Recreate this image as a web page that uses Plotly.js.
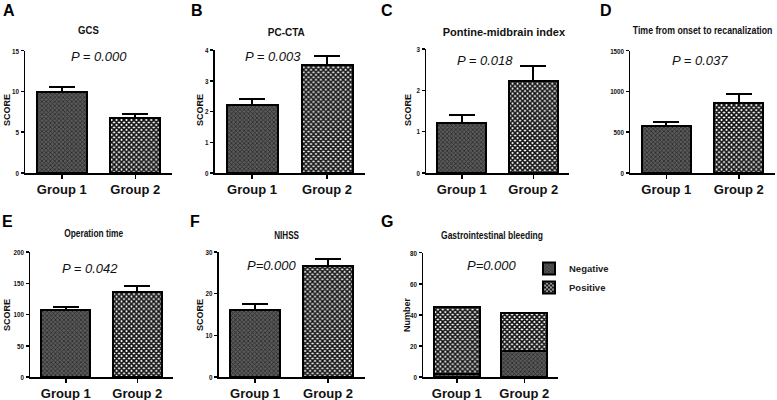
<!DOCTYPE html>
<html>
<head>
<meta charset="utf-8">
<script src="https://cdn.plot.ly/plotly-3.0.1.min.js"></script>
<style>
html,body{margin:0;padding:0;background:#fff;}
#chart{width:777px;height:400px;}
</style>
</head>
<body>
<div id="chart"></div>
<script>
// ---- data ----
const groups = ["Group 1", "Group 2"];
const gcsMean = [9.9, 6.8];
const gcsErr = [0.6, 0.45];
const pcctaMean = [2.2, 3.5];
const pcctaErr = [0.22, 0.32];
const pmiMean = [1.2, 2.23];
const pmiErr = [0.21, 0.35];
const timeMean = [575, 860];
const timeErr = [50, 110];
const opMean = [107, 136];
const opErr = [5, 10];
const nihssMean = [16.1, 26.6];
const nihssErr = [1.4, 1.7];
const giNegative = [2, 17];
const giPositive = [43, 24];
const legendNames = ["Negative", "Positive"];
const panelTitles = ["GCS", "PC-CTA", "Pontine-midbrain index", "Time from onset to recanalization",
                     "Operation time", "NIHSS", "Gastrointestinal bleeding"];
const pLabels = ["P = 0.000", "P = 0.003", "P = 0.018", "P = 0.037", "P = 0.042", "P=0.000", "P=0.000"];
const panelLetters = ["A", "B", "C", "D", "E", "F", "G"];
const yTitles = ["SCORE", "SCORE", "SCORE", "", "SCORE", "SCORE", "Number"];
const yRanges = [[0, 15], [0, 4], [0, 3], [0, 1500], [0, 200], [0, 30], [0, 80]];
const yDticks = [5, 1, 1, 500, 50, 10, 20];

// ---- layout helpers (pixel -> paper) ----
const W = 777, H = 400;
const px = x => x / W;
const py = y => 1 - y / H;

const SANS = "Liberation Sans, Arial, sans-serif";

const pat1 = {shape: "x", bgcolor: "#5a5a5a", fgcolor: "#2a2a2a", size: 3, solidity: 0.45};
const pat2 = {shape: "x", bgcolor: "#ffffff", fgcolor: "#111111", size: 3.5, solidity: 0.7};

// panel pixel geometry: [xLeft, xRight, yTop, yBottom]
const geom = [
  [25, 172, 50.7, 173],
  [214.5, 364.5, 50, 173],
  [426, 569, 49, 173],
  [630, 775, 50.7, 173],
  [30, 173, 252, 377],
  [218.5, 364.5, 252, 377],
  [423, 558, 252.7, 377]
];
const titlePos = [[88, 30], [286, 32], [504, 32], [702, 30], [93, 233], [286, 235], [492, 235]];
const titleWidths = [21, 37, 123, 140, 59, 25, 102];
const pPos = [[99, 57], [273, 57], [485, 61], [700, 61], [90, 268], [272, 265], [492, 265]];
const letterPos = [[9, 10], [197, 10], [387, 10], [606, 10], [7, 221], [195, 221], [387, 221]];
const yTitlePos = [[7, 110], [200, 110], [408, 110], null, [7, 315], [200, 315], [407, 315]];

const means = [gcsMean, pcctaMean, pmiMean, timeMean, opMean, nihssMean];
const errs = [gcsErr, pcctaErr, pmiErr, timeErr, opErr, nihssErr];

const traces = [];
const layout = {
  width: W, height: H,
  margin: {l: 0, r: 0, t: 0, b: 0},
  paper_bgcolor: "#fff", plot_bgcolor: "rgba(0,0,0,0)",
  barmode: "stack",
  showlegend: true,
  legend: {x: px(529), y: py(254), xanchor: "left", yanchor: "top",
           traceorder: "normal", font: {family: SANS, size: 9.5, color: "#222", weight: "bold"},
           itemwidth: 30, tracegroupgap: 0, bgcolor: "rgba(0,0,0,0)"},
  annotations: []
};

function axisStyle() {
  return {showline: true, linecolor: "#000", linewidth: 1.5, ticks: "outside",
          ticklen: 3, tickwidth: 1.5, tickcolor: "#000", showgrid: false, zeroline: false,
          fixedrange: true};
}

const titleAnnIdx = [];
for (let i = 0; i < 7; i++) {
  const n = i + 1;
  const xa = n === 1 ? "x" : "x" + n;
  const ya = n === 1 ? "y" : "y" + n;
  const xk = n === 1 ? "xaxis" : "xaxis" + n;
  const yk = n === 1 ? "yaxis" : "yaxis" + n;
  const g = geom[i];
  layout[xk] = Object.assign(axisStyle(), {
    domain: [px(g[0]), px(g[1])], anchor: ya, type: "category", range: [-0.5, 1.5],
    ticklen: 4,
    tickfont: {family: SANS, size: 13, color: "#111", weight: "bold"}
  });
  layout[yk] = Object.assign(axisStyle(), {
    domain: [py(g[3]), py(g[2])], anchor: xa, range: yRanges[i], dtick: yDticks[i],
    tickfont: {family: SANS, size: 8, color: "#111", weight: "bold"}
  });

  if (i < 6) {
    traces.push({
      type: "bar", x: groups, y: means[i], xaxis: xa, yaxis: ya, width: 0.68,
      showlegend: false, hoverinfo: "skip",
      marker: {line: {color: "#000", width: 2},
               pattern: {shape: [pat1.shape, pat2.shape], bgcolor: [pat1.bgcolor, pat2.bgcolor],
                         fgcolor: [pat1.fgcolor, pat2.fgcolor], size: [pat1.size, pat2.size],
                         solidity: [pat1.solidity, pat2.solidity], fillmode: "replace"}},
      error_y: {type: "data", array: errs[i], arrayminus: [0, 0], symmetric: false,
                color: "#000", thickness: 2, width: 13}
    });
  } else {
    traces.push({
      type: "bar", x: groups, y: giNegative, xaxis: xa, yaxis: ya, width: 0.68,
      name: legendNames[0], hoverinfo: "skip",
      marker: {line: {color: "#000", width: 2}, pattern: Object.assign({fillmode: "replace"}, pat1)}
    });
    traces.push({
      type: "bar", x: groups, y: giPositive, xaxis: xa, yaxis: ya, width: 0.68,
      name: legendNames[1], hoverinfo: "skip",
      marker: {line: {color: "#000", width: 2}, pattern: Object.assign({fillmode: "replace"}, pat2)}
    });
  }

  titleAnnIdx.push(layout.annotations.length);
  layout.annotations.push({
    xref: "paper", yref: "paper", x: px(titlePos[i][0]), y: py(titlePos[i][1]),
    xanchor: "center", yanchor: "middle", showarrow: false, text: panelTitles[i],
    font: {family: SANS, size: 11.5, color: "#111", weight: "bold"}
  });
  layout.annotations.push({
    xref: "paper", yref: "paper", x: px(pPos[i][0]), y: py(pPos[i][1]),
    xanchor: "center", yanchor: "middle", showarrow: false, text: "<i>" + pLabels[i] + "</i>",
    font: {family: SANS, size: 13, color: "#111"}
  });
  layout.annotations.push({
    xref: "paper", yref: "paper", x: px(letterPos[i][0]), y: py(letterPos[i][1]),
    xanchor: "center", yanchor: "middle", showarrow: false, text: panelLetters[i],
    font: {family: SANS, size: 16, color: "#000", weight: "bold"}
  });
  if (yTitlePos[i]) {
    layout.annotations.push({
      xref: "paper", yref: "paper", x: px(yTitlePos[i][0]), y: py(yTitlePos[i][1]),
      xanchor: "center", yanchor: "middle", showarrow: false, text: yTitles[i], textangle: -90,
      font: {family: SANS, size: 9, color: "#111", weight: "bold"}
    });
  }
}

Plotly.newPlot("chart", traces, layout, {staticPlot: true, displayModeBar: false}).then(gd => {
  // condense panel titles horizontally (narrow bold face as in the reference)
  titleAnnIdx.forEach((annIdx, k) => {
    const el = gd.querySelector('g.annotation[data-index="' + annIdx + '"] text.annotation-text');
    if (!el) return;
    const w = el.getBBox().width;
    if (!w) return;
    const s = Math.min(1, titleWidths[k] / w);
    el.style.transformBox = "fill-box";
    el.style.transformOrigin = "center";
    el.style.transform = "scaleX(" + s + ")";
  });
  // condensed y tick labels, anchored at their right edge (keep Plotly's own transform)
  gd.querySelectorAll(".yaxislayer-above text").forEach(el => {
    const bb = el.getBBox();
    const rx = bb.x + bb.width;
    const prev = el.getAttribute("transform") || "";
    el.setAttribute("transform", prev + " translate(" + rx + ",0) scale(0.78,1) translate(" + (-rx) + ",0)");
  });
});
</script>
</body>
</html>
